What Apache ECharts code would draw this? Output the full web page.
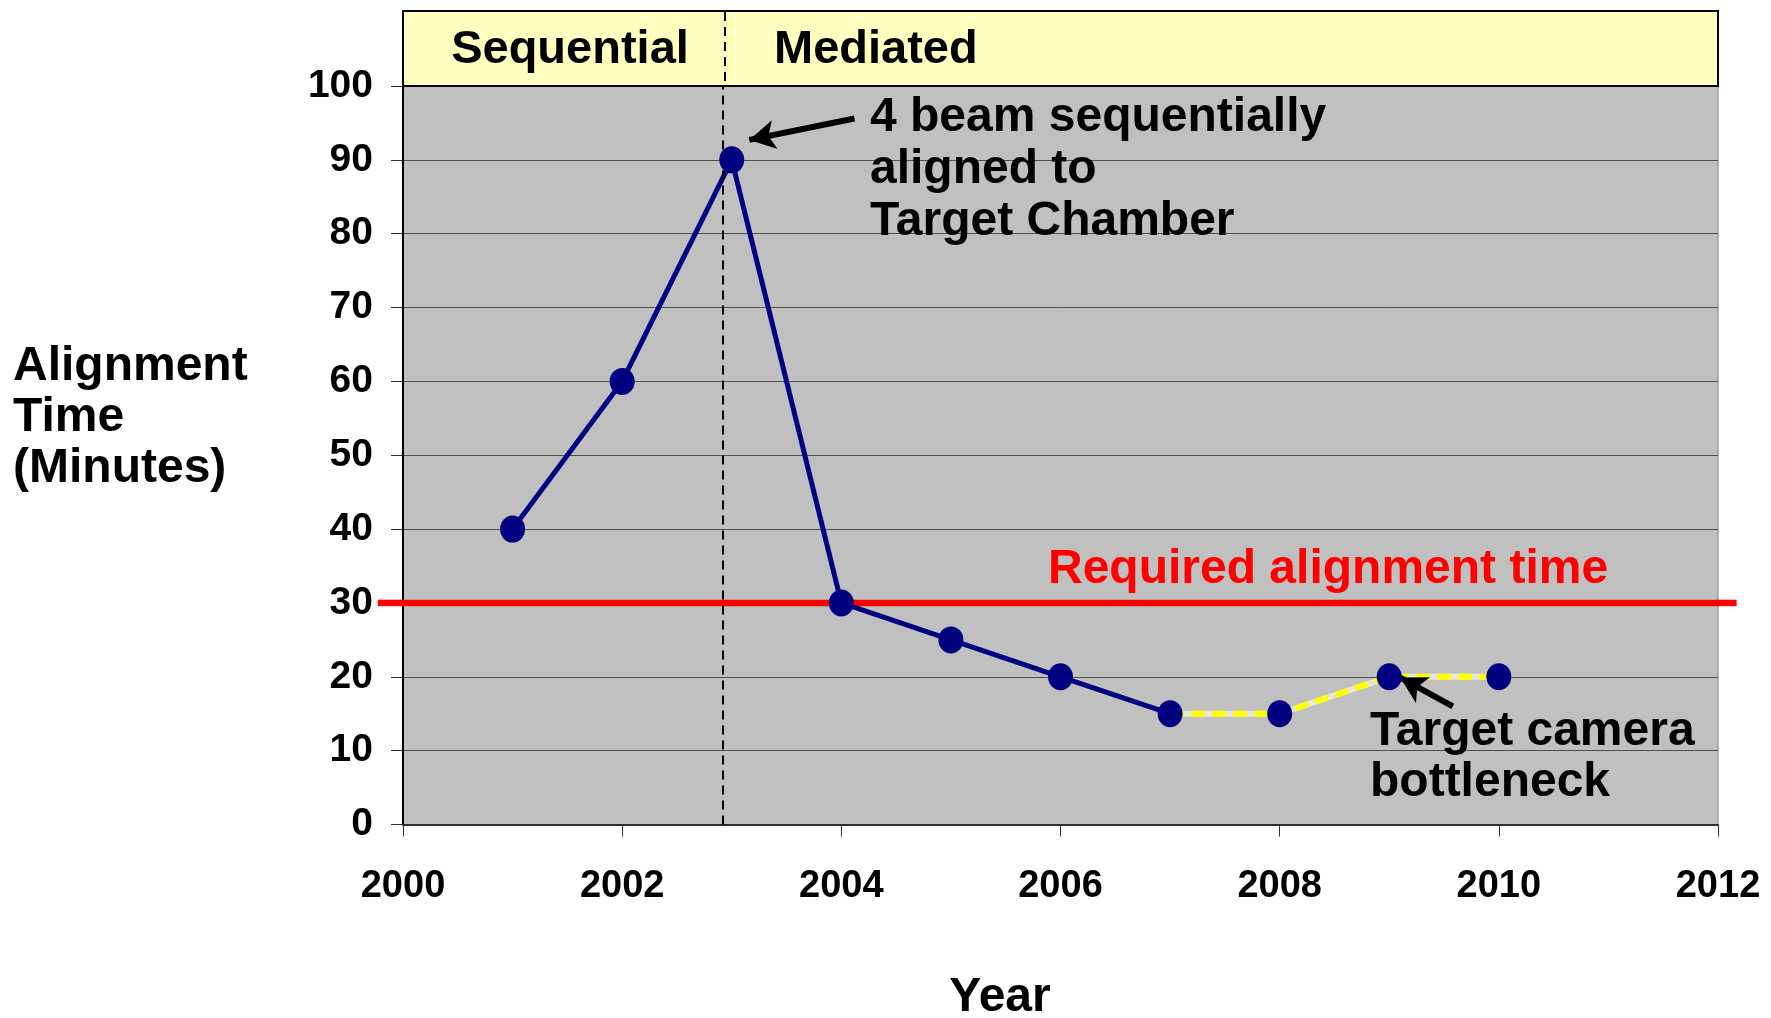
<!DOCTYPE html>
<html>
<head>
<meta charset="utf-8">
<script src="https://cdn.jsdelivr.net/npm/echarts@6/dist/echarts.min.js"></script>
<style>
html,body{margin:0;padding:0;background:#fff;}
#chart{width:1771px;height:1018px;}
</style>
</head>
<body>
<div id="chart"></div>
<script>
// ---- data ----
const years = [2001, 2002, 2003, 2004, 2005, 2006, 2007, 2008, 2009, 2010];
const alignTime = [40, 60, 90, 30, 25, 20, 15, 15, 20, 20];
const solidIdx = [0, 7];     // solid navy segment: 2001-2007
const dashedIdx = [6, 10];   // yellow dashed segment: 2007-2010
const requiredTime = 30;
const requiredSpan = [1999.77, 2012.17];
const phaseBoundary = 2002.92;
const phaseLabels = ['Sequential', 'Mediated'];
const xRange = [2000, 2012, 2];
const yRange = [0, 100, 10];
const arrow1 = [[2004.12, 95.6], [2003.16, 92.7]];
const arrow2 = [[2009.58, 16.0], [2009.10, 19.9]];
const note1 = '4 beam sequentially\naligned to\nTarget Chamber';
const note2 = 'Target camera\nbottleneck';
const requiredLabel = 'Required alignment time';
const yTitle = 'Alignment\nTime\n(Minutes)';
const xTitle = 'Year';

// ---- layout ----
const W = 1771, H = 1018;
const GL = 403, GR = 1718, GT = 86, GB = 824.5;
const FONT = '"Liberation Sans", Arial, sans-serif';
const pts = (a, b) => years.slice(a, b).map((y, i) => [y, alignTime[a + i]]);
const xPix = v => GL + (v - xRange[0]) / (xRange[1] - xRange[0]) * (GR - GL);

const chart = echarts.init(document.getElementById('chart'), null, {renderer: 'canvas'});
const boundaryX = xPix(phaseBoundary);

chart.setOption({
  backgroundColor: '#ffffff',
  animation: false,
  grid: {left: GL, right: W - GR, top: GT, bottom: H - GB, show: true,
         backgroundColor: '#c0c0c0', borderColor: '#808080', borderWidth: 1},
  xAxis: {
    type: 'value', min: xRange[0], max: xRange[1], interval: xRange[2],
    axisLine: {show: true, onZero: false, lineStyle: {color: '#303030', width: 2}},
    axisTick: {show: true, length: 12, lineStyle: {color: '#303030', width: 1}},
    splitLine: {show: false},
    axisLabel: {fontFamily: FONT, fontWeight: 'bold', fontSize: 38, color: '#000',
                margin: 43, formatter: v => String(v)}
  },
  yAxis: {
    type: 'value', min: yRange[0], max: yRange[1], interval: yRange[2],
    axisLine: {show: true, lineStyle: {color: '#000', width: 2}},
    axisTick: {show: true, length: 12, lineStyle: {color: '#303030', width: 1}},
    splitLine: {show: true, lineStyle: {color: '#505050', width: 1}},
    axisLabel: {fontFamily: FONT, fontWeight: 'bold', fontSize: 39, color: '#000', margin: 30}
  },
  series: [
    {
      type: 'line', name: 'required', z: 2, symbol: 'none', clip: false,
      data: [[xRange[0], requiredTime], [xRange[1], requiredTime]],
      lineStyle: {color: '#ff0000', width: 6.5}
    },
    {
      type: 'line', name: 'solid', z: 3, symbol: 'none',
      data: pts(solidIdx[0], solidIdx[1]),
      lineStyle: {color: '#000080', width: 5},
      markLine: {
        silent: true, symbol: 'none', label: {show: false},
        lineStyle: {color: '#000', width: 2, type: [9, 6]},
        data: [{xAxis: phaseBoundary}]
      }
    },
    {
      type: 'line', name: 'dashUnder', z: 3, symbol: 'none',
      data: pts(dashedIdx[0], dashedIdx[1]),
      lineStyle: {color: '#e6e6e6', width: 6}
    },
    {
      type: 'line', name: 'dash', z: 4, symbol: 'none',
      data: pts(dashedIdx[0], dashedIdx[1]),
      lineStyle: {color: '#ffff00', width: 6, type: [14, 7]}
    },
    {
      type: 'scatter', name: 'points', z: 5,
      data: pts(0, years.length),
      symbol: 'circle', symbolSize: [25, 27],
      itemStyle: {color: '#000080', opacity: 1},
      emphasis: {disabled: true},
      markLine: {
        silent: true, symbol: ['none', 'arrow'], symbolSize: [22, 26],
        label: {show: false},
        lineStyle: {color: '#000', width: 6, type: 'solid'},
        data: [
          [{coord: arrow1[0]}, {coord: arrow1[1]}],
          [{coord: arrow2[0]}, {coord: arrow2[1]}]
        ]
      }
    }
  ]
});

// red required-time line extends slightly beyond the plot on both sides
const pL = chart.convertToPixel({gridIndex: 0}, [requiredSpan[0], requiredTime]);
const pL2 = chart.convertToPixel({gridIndex: 0}, [xRange[0], requiredTime]);
const pR = chart.convertToPixel({gridIndex: 0}, [requiredSpan[1], requiredTime]);
const pR2 = chart.convertToPixel({gridIndex: 0}, [xRange[1], requiredTime]);

chart.setOption({
  graphic: [
    {type: 'line', z: 10, shape: {x1: pL[0], y1: pL[1], x2: pL2[0] + 1, y2: pL2[1]},
     style: {stroke: '#ff0000', lineWidth: 6.5}},
    {type: 'line', z: 10, shape: {x1: pR2[0] - 1, y1: pR2[1], x2: pR[0], y2: pR[1]},
     style: {stroke: '#ff0000', lineWidth: 6.5}},
    {type: 'rect', z: 10, shape: {x: GL, y: 11, width: GR - GL, height: GT - 11},
     style: {fill: '#ffffc0', stroke: '#000', lineWidth: 2}},
    {type: 'line', z: 11, shape: {x1: boundaryX + 2, y1: 12, x2: boundaryX + 2, y2: GT - 1},
     style: {stroke: '#000', lineWidth: 2, lineDash: [9, 6]}},
    {type: 'text', z: 12, x: 570, y: 50,
     style: {text: phaseLabels[0], font: 'bold 47px ' + FONT, fill: '#000',
             textAlign: 'center', textVerticalAlign: 'middle'}},
    {type: 'text', z: 12, x: 774, y: 50,
     style: {text: phaseLabels[1], font: 'bold 47px ' + FONT, fill: '#000',
             textAlign: 'left', textVerticalAlign: 'middle'}},
    {type: 'text', z: 12, x: 13, y: 418,
     style: {text: yTitle, font: 'bold 48px ' + FONT, lineHeight: 51, fill: '#000',
             textAlign: 'left', textVerticalAlign: 'middle'}},
    {type: 'text', z: 12, x: 1000, y: 998,
     style: {text: xTitle, font: 'bold 48px ' + FONT, fill: '#000',
             textAlign: 'center', textVerticalAlign: 'middle'}},
    {type: 'text', z: 12, x: 870, y: 170,
     style: {text: note1, font: 'bold 48px ' + FONT, lineHeight: 52, fill: '#000',
             textAlign: 'left', textVerticalAlign: 'middle'}},
    {type: 'text', z: 12, x: 1370, y: 757,
     style: {text: note2, font: 'bold 48px ' + FONT, lineHeight: 51, fill: '#000',
             textAlign: 'left', textVerticalAlign: 'middle'}},
    {type: 'text', z: 12, x: 1048, y: 570,
     style: {text: requiredLabel, font: 'bold 48px ' + FONT, fill: '#ff0000',
             textAlign: 'left', textVerticalAlign: 'middle'}}
  ]
});
</script>
</body>
</html>
